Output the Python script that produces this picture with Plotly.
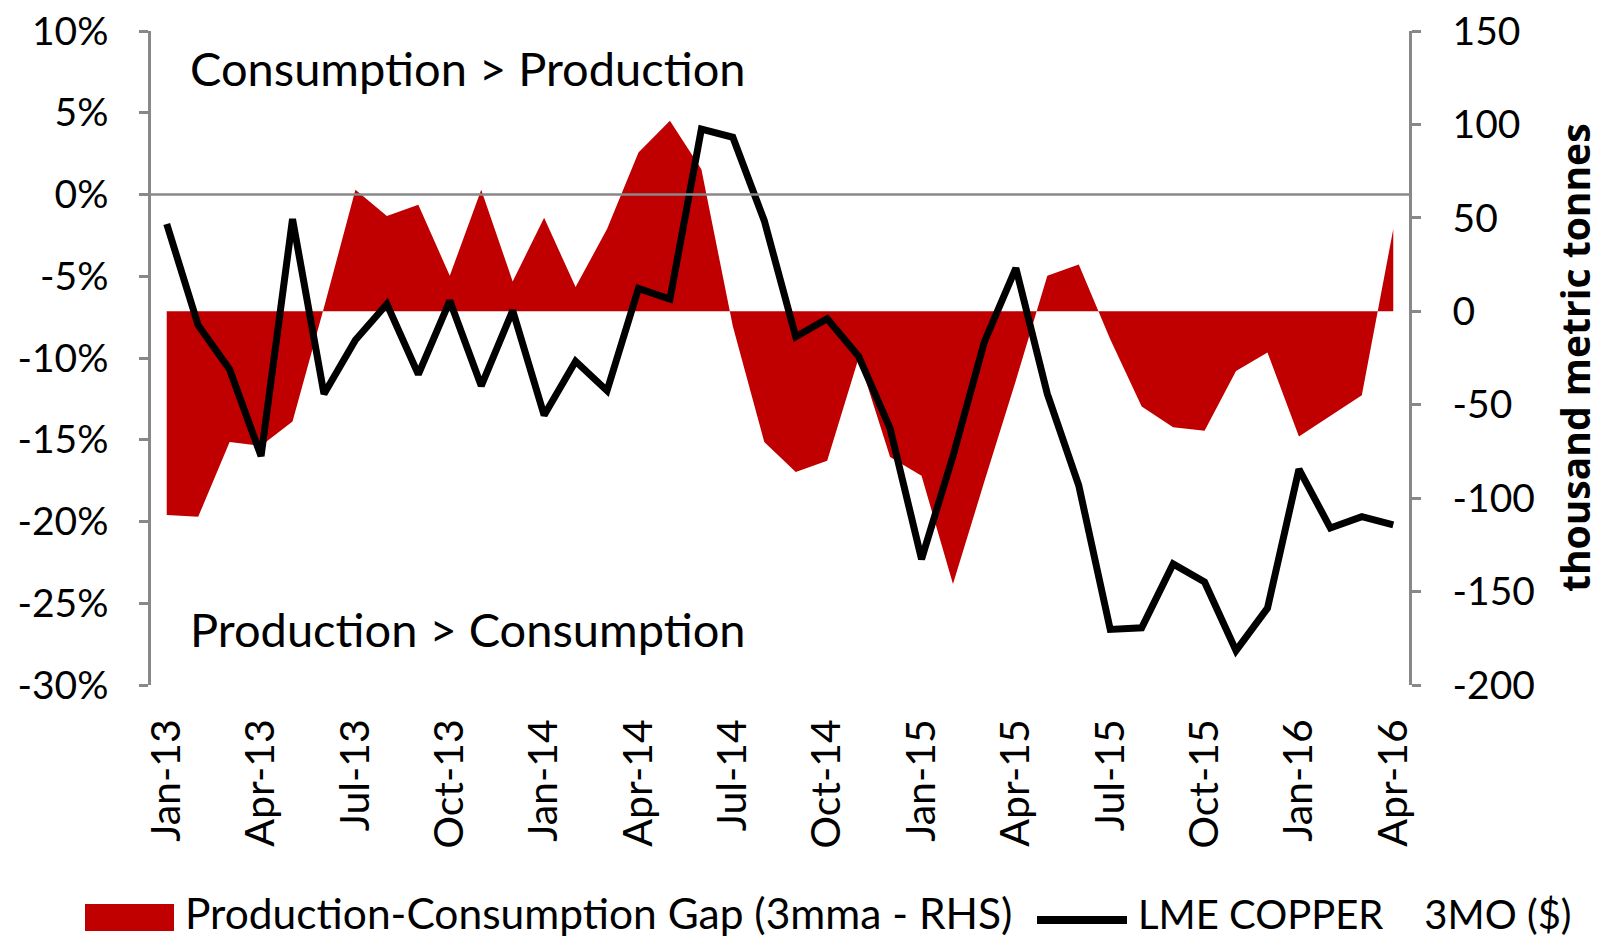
import plotly.graph_objects as go

months = ["Jan-13", "Feb-13", "Mar-13", "Apr-13", "May-13", "Jun-13", "Jul-13", "Aug-13",
          "Sep-13", "Oct-13", "Nov-13", "Dec-13", "Jan-14", "Feb-14", "Mar-14", "Apr-14",
          "May-14", "Jun-14", "Jul-14", "Aug-14", "Sep-14", "Oct-14", "Nov-14", "Dec-14",
          "Jan-15", "Feb-15", "Mar-15", "Apr-15", "May-15", "Jun-15", "Jul-15", "Aug-15",
          "Sep-15", "Oct-15", "Nov-15", "Dec-15", "Jan-16", "Feb-16", "Mar-16", "Apr-16"]

# Production-Consumption Gap (3mma), thousand metric tonnes (RHS)
gap = [-109, -110, -70, -72, -59, 2, 65, 51, 57, 19, 65, 16, 50, 13, 44, 85,
       102, 76, -8, -70, -86, -80, -25, -78, -88, -146, -91, -37, 19, 25, -15, -51,
       -62, -64, -32, -22, -67, -56, -45, 44]

# LME Copper 3MO, % change (LHS)
copper = [-1.8, -8.0, -10.7, -16.0, -1.5, -12.2, -8.9, -6.7, -11.0, -6.5, -11.7, -7.1,
          -13.5, -10.2, -12.0, -5.75, -6.4, 4.0, 3.5, -1.6, -8.7, -7.6, -9.9, -14.3,
          -22.3, -16.0, -9.0, -4.5, -12.2, -17.8, -26.6, -26.5, -22.6, -23.7, -27.9, -25.3,
          -16.8, -20.4, -19.7, -20.2]

tick_labels = months[::3]
left_vals = [10, 5, 0, -5, -10, -15, -20, -25, -30]
left_text = ["10%", "5%", "0%", "-5%", "-10%", "-15%", "-20%", "-25%", "-30%"]
right_vals = [150, 100, 50, 0, -50, -100, -150, -200]
right_text = ["150", "100", "50", "0", "-50", "-100", "-150", "-200"]

RED = "#C00000"
GRAY = "#888888"
FONT = "Lato"

OFF = 8  # page body margin
W, H = 1603 - OFF, 940 - OFF
L, T = 151 - OFF, 31 - OFF
R = W - (1409 - OFF)
B = H - (685 - OFF)
pw, ph = W - L - R, H - T - B


def px(x):
    return (x - OFF - L) / pw


def py(y):
    return (H - B - (y - OFF)) / ph


fig = go.Figure()
fig.add_trace(go.Scatter(x=months, y=gap, yaxis="y", mode="lines", fill="tozeroy",
                         fillcolor=RED, line=dict(width=0, color=RED),
                         name="Production-Consumption Gap (3mma - RHS)", showlegend=False))
fig.add_trace(go.Scatter(x=months, y=copper, yaxis="y2", mode="lines",
                         line=dict(width=7, color="black"),
                         name="LME COPPER 3MO ($)", showlegend=False))

fig.update_layout(
    width=W, height=H,
    margin=dict(l=L, r=R, t=T, b=B, autoexpand=False),
    paper_bgcolor="white", plot_bgcolor="white",
    font=dict(family=FONT, color="black"),
    xaxis=dict(type="category", range=[-0.5, 39.5], tickmode="array",
               tickvals=tick_labels, ticktext=tick_labels, tickangle=-90,
               showline=False, showgrid=False, zeroline=False, ticks="",
               tickfont=dict(family=FONT, size=41), ticklabelstandoff=25, automargin=False),
    yaxis=dict(side="right", range=[-200, 150], tickmode="array",
               tickvals=right_vals, ticktext=right_text, ticklabeloverflow="allow",
               showgrid=False, zeroline=False, showline=True, linecolor=GRAY, linewidth=2.5,
               ticks="outside", ticklen=9, tickwidth=2.5, tickcolor=GRAY,
               tickfont=dict(family=FONT, size=39), ticklabelstandoff=24, automargin=False),
    yaxis2=dict(side="left", overlaying="y", range=[-30, 10], tickmode="array",
                tickvals=left_vals, ticktext=left_text, ticklabeloverflow="allow",
                showgrid=False, zeroline=False, showline=True, linecolor=GRAY, linewidth=2.5,
                ticks="outside", ticklen=9, tickwidth=2.5, tickcolor=GRAY,
                tickfont=dict(family=FONT, size=39), ticklabelstandoff=23, automargin=False),
    shapes=[
        dict(type="line", xref="paper", x0=0, x1=1, yref="y2", y0=0, y1=0,
             line=dict(color=GRAY, width=2.5), layer="above"),
        dict(type="rect", xref="paper", yref="paper", x0=px(85), x1=px(174),
             y0=py(931), y1=py(904), fillcolor=RED, line=dict(width=0)),
        dict(type="line", xref="paper", yref="paper", x0=px(1037), x1=px(1127),
             y0=py(920), y1=py(920), line=dict(color="black", width=8)),
    ],
    annotations=[
        dict(text="Consumption > Production", xref="paper", yref="paper", x=px(188), y=py(68),
             xanchor="left", yanchor="middle", showarrow=False, font=dict(size=47)),
        dict(text="Production > Consumption", xref="paper", yref="paper", x=px(188), y=py(629),
             xanchor="left", yanchor="middle", showarrow=False, font=dict(size=47)),
        dict(text="Production-Consumption Gap (3mma - RHS)", xref="paper", yref="paper",
             x=px(183), y=py(939.5), xanchor="left", yanchor="bottom", showarrow=False,
             font=dict(size=42.5)),
        dict(text="LME COPPER\u00a0\u00a0\u00a0\u00a03MO ($)", xref="paper", yref="paper",
             x=px(1136), y=py(939.5), xanchor="left", yanchor="bottom", showarrow=False,
             font=dict(size=40)),
        dict(text="<b>thousand metric tonnes</b>", xref="paper", yref="paper",
             x=px(1602.5), y=py(358), xanchor="right", yanchor="middle", textangle=-90,
             showarrow=False, font=dict(family="Open Sans", size=39)),
    ],
)

fig.write_html("out.html")
